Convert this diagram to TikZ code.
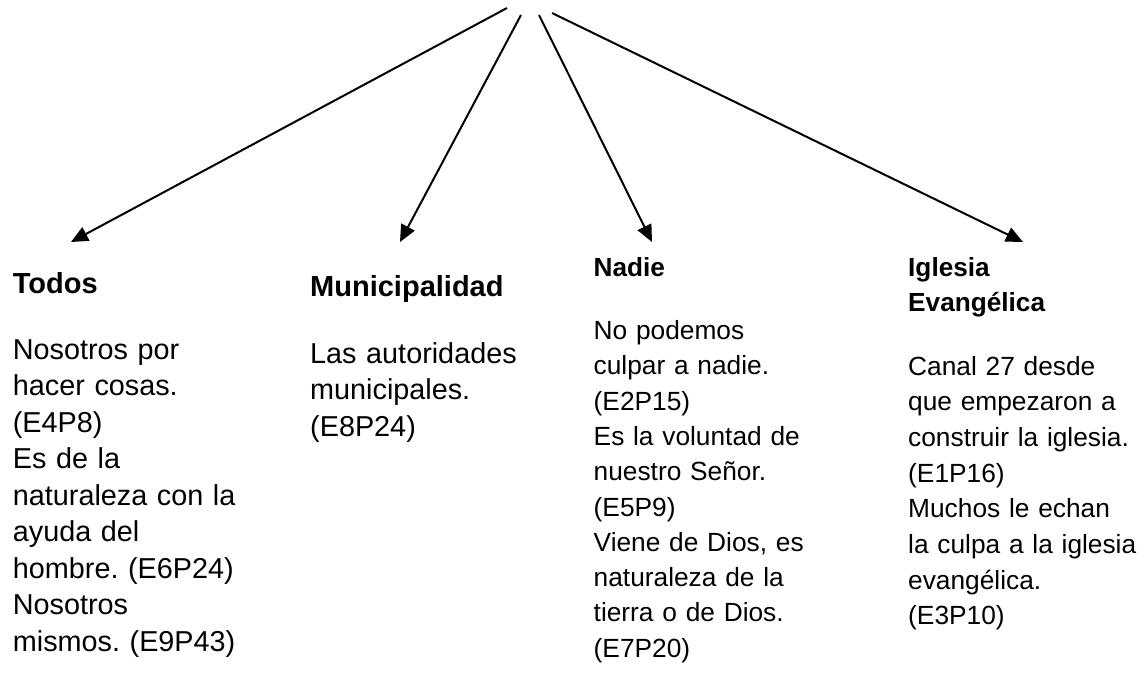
\documentclass[tikz,border=0pt]{standalone}
\usepackage{fontspec}
\setmainfont{Liberation Sans}
\frenchspacing
\usetikzlibrary{arrows.meta}
\tikzset{
  conn/.style={line width=2pt,-{Triangle[length=17pt,width=15pt]}},
  head/.style={anchor=base west,inner sep=0pt,align=left,text width=300pt,font=\bfseries\fontsize{29}{35}\selectfont},
  headsm/.style={head,font=\bfseries\fontsize{26.2}{35}\selectfont},
  body/.style={anchor=base west,inner sep=0pt,align=left,text width=300pt,font=\fontsize{28.8}{36.5}\selectfont},
  bodysm/.style={body,font=\fontsize{26.3}{35.7}\selectfont}
}
\begin{document}
\begin{tikzpicture}[x=1pt,y=-1pt]
\useasboundingbox (0,0) rectangle (1145,675);
\coordinate (s1) at (507,8);
\coordinate (s2) at (521,15);
\coordinate (s3) at (539,15);
\coordinate (s4) at (552,13);
\coordinate (t1) at (71,242);
\coordinate (t2) at (400,242);
\coordinate (t3) at (652,242);
\coordinate (t4) at (1023,242);
\draw[conn] (s1) -- (t1);
\draw[conn] (s2) -- (t2);
\draw[conn] (s3) -- (t3);
\draw[conn] (s4) -- (t4);
\node[head] (h1) at (12.7,293) {Todos};
\node[body] (b1) at (12.7,359.3) {Nosotros por\\hacer cosas.\\(E4P8)\\Es de la\\naturaleza con la\\ayuda del\\hombre. (E6P24)\\Nosotros\\mismos. (E9P43)};
\node[head] (h2) at (310,296.7) {Municipalidad};
\node[body] (b2) at (310,363.3) {Las autoridades\\municipales.\\(E8P24)};
\node[headsm] (h3) at (593.5,276) {Nadie};
\node[bodysm,font=\fontsize{26.3}{35.3}\selectfont] (b3) at (593.5,339.5) {No podemos\\culpar a nadie.\\(E2P15)\\Es la voluntad de\\nuestro Señor.\\(E5P9)\\Viene de Dios, es\\naturaleza de la\\tierra o de Dios.\\(E7P20)};
\node[headsm] (h4) at (908,276.7) {Iglesia\\Evangélica};
\node[bodysm] (b4) at (908,375) {Canal 27 desde\\que empezaron a\\construir la iglesia.\\(E1P16)\\Muchos le echan\\la culpa a la iglesia\\evangélica.\\(E3P10)};
\end{tikzpicture}
\end{document}
